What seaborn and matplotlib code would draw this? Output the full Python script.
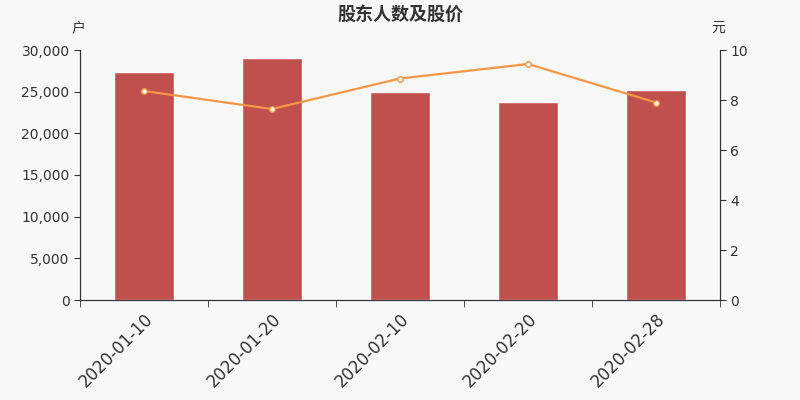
import numpy as np
import pandas as pd
import matplotlib
matplotlib.use("Agg")
import matplotlib.pyplot as plt
import seaborn as sns
from matplotlib.ticker import FuncFormatter, FixedLocator

dates = ["2020-01-10", "2020-01-20", "2020-02-10", "2020-02-20", "2020-02-28"]
holders = [27400, 29100, 25000, 23800, 25200]
prices = [8.36, 7.64, 8.86, 9.44, 7.90]

sns.set_style("ticks")
plt.rcParams['font.family'] = ['DejaVu Sans', 'Noto Sans CJK SC']

bg = "#f8f8f8"
fig = plt.figure(figsize=(8, 4), dpi=100, facecolor=bg)
ax = fig.add_axes([0.1, 0.25, 0.8, 0.625])
ax.set_facecolor(bg)

df = pd.DataFrame({"date": dates, "holders": holders, "price": prices})
sns.barplot(data=df, x="date", y="holders", color="#c0504d", saturation=1,
            width=0.47, ax=ax)
ax.set_xlim(-0.5, len(dates) - 0.5)
ax.set_ylim(0, 30000)
ax.set_yticks(np.arange(0, 30001, 5000))
ax.yaxis.set_major_formatter(FuncFormatter(lambda v, p: f"{int(v):,}"))
ax.set_xlabel("")
ax.set_ylabel("")
ax.set_xticks(range(len(dates)))
ax.set_xticklabels(dates, rotation=45, ha="right", rotation_mode="anchor",
                   fontsize=12, color="#333333")
ax.tick_params(axis="x", length=0, pad=7)
ax.xaxis.set_minor_locator(FixedLocator(np.arange(-0.5, len(dates), 1)))
ax.tick_params(axis="x", which="minor", length=5, color="#333333")
ax.tick_params(axis="y", labelsize=10, colors="#333333", length=4)

ax2 = ax.twinx()
sns.lineplot(x=np.arange(len(dates)), y=prices, ax=ax2, color="#f79646",
             linewidth=1.6, marker="o", markersize=4, markerfacecolor="white",
             markeredgecolor="#f79646", markeredgewidth=1)
ax2.set_ylim(0, 10)
ax2.set_yticks(np.arange(0, 11, 2))
ax2.tick_params(axis="y", labelsize=10, colors="#333333", length=4)

for a in (ax, ax2):
    for s in a.spines.values():
        s.set_color("#333333")
    a.spines["top"].set_visible(False)

fig.text(0.5, 0.965, "股东人数及股价", ha="center", va="center",
         fontsize=13, fontweight="bold", color="#333333",
         family=['Noto Sans CJK SC', 'DejaVu Sans'])
fig.text(0.098, 0.93, "户", ha="center", va="center", fontsize=10, color="#333333",
         family=['Noto Sans CJK SC', 'DejaVu Sans'])
fig.text(0.898, 0.93, "元", ha="center", va="center", fontsize=10, color="#333333",
         family=['Noto Sans CJK SC', 'DejaVu Sans'])

fig.savefig("out.png", dpi=100, facecolor=bg)
